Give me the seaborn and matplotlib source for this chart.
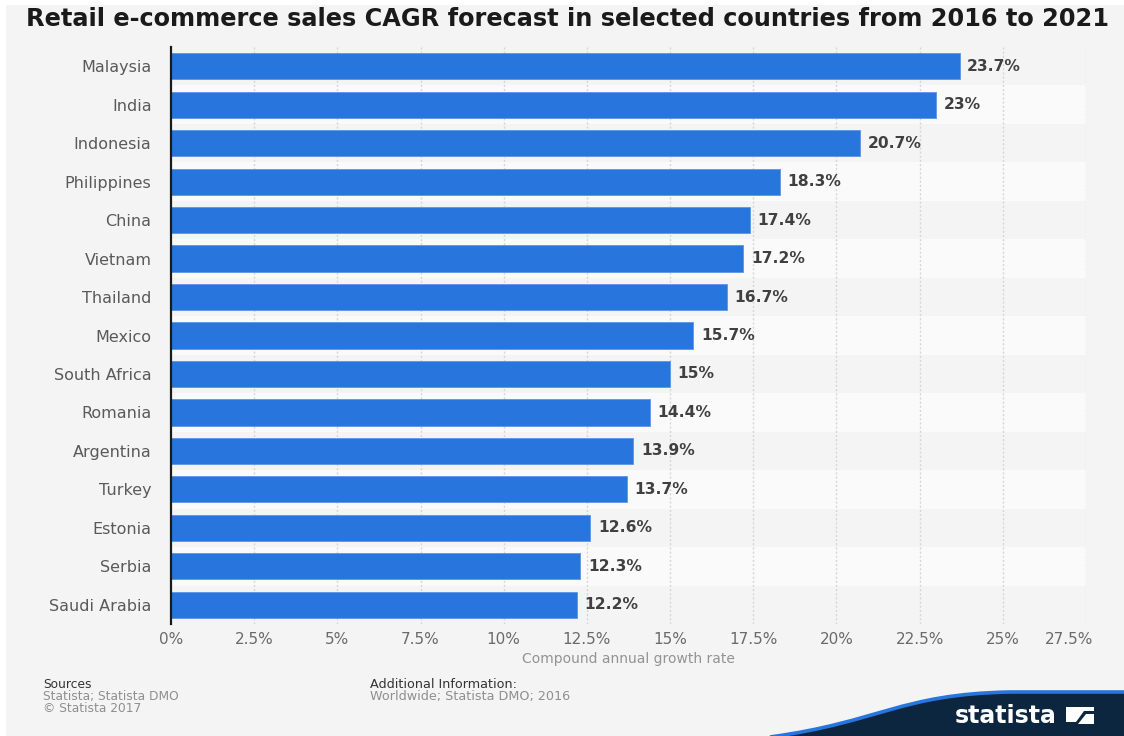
import numpy as np
import pandas as pd
import matplotlib
matplotlib.use("Agg")
import matplotlib.pyplot as plt
import seaborn as sns
from matplotlib.patches import Rectangle, PathPatch, Polygon
from matplotlib.path import Path
from matplotlib.transforms import Affine2D

# ---- data -------------------------------------------------------------
countries = ["Malaysia", "India", "Indonesia", "Philippines", "China",
             "Vietnam", "Thailand", "Mexico", "South Africa", "Romania",
             "Argentina", "Turkey", "Estonia", "Serbia", "Saudi Arabia"]
cagr = [23.7, 23, 20.7, 18.3, 17.4, 17.2, 16.7, 15.7, 15, 14.4,
        13.9, 13.7, 12.6, 12.3, 12.2]
x_ticks = [0, 2.5, 5, 7.5, 10, 12.5, 15, 17.5, 20, 22.5, 25, 27.5]

title = "Retail e-commerce sales CAGR forecast in selected countries from 2016 to 2021"
x_label = "Compound annual growth rate"

# ---- style ------------------------------------------------------------
BG = "#f4f4f4"
BAND = "#fafafa"
BAR = "#2876dd"
NAVY = "#0c2640"

sns.set_theme(style="white")
plt.rcParams["font.family"] = ["DejaVu Sans"]

W, H = 1124, 736
fig = plt.figure(figsize=(W / 100, H / 100), dpi=100, facecolor="white")

# pixel helper: x from left, y from top
px = Affine2D().scale(1 / W, -1 / H).translate(0, 1) + fig.transFigure

fig.patches.append(Rectangle((6, 5), W - 6, H - 5, transform=px,
                             facecolor=BG, edgecolor="none", zorder=-10))

ax = fig.add_axes([171 / W, 1 - 624 / H, (1086 - 171) / W, (624 - 47) / H])
ax.set_facecolor("none")
ax.set_zorder(2)

df = pd.DataFrame({"country": countries, "cagr": cagr})

# alternating row bands
for i in range(len(countries)):
    if i % 2 == 1:
        ax.axhspan(i - 0.5, i + 0.5, color=BAND, zorder=0, lw=0)

sns.barplot(data=df, x="cagr", y="country", orient="h", color=BAR,
            saturation=1, width=0.68, ax=ax, zorder=3,
            edgecolor="#5b96e6", linewidth=0.6)

ax.set_xlim(0, 27.5)
ax.set_ylim(len(countries) - 0.5, -0.5)
ax.set_xticks(x_ticks)
ax.set_xticklabels([f"{t:g}%" for t in x_ticks])
for t in x_ticks[1:]:
    ax.axvline(t, color="#d6d6d6", lw=1, ls=(0, (1.5, 1.5)), zorder=1)

for s in ["top", "right", "bottom"]:
    ax.spines[s].set_visible(False)
ax.spines["left"].set_color("#1a1a1a")
ax.spines["left"].set_linewidth(1.6)
ax.spines["left"].set_zorder(5)

ax.tick_params(axis="y", length=0, pad=14, labelsize=11.5, labelcolor="#5a5a5a")
ax.tick_params(axis="x", length=0, pad=6, labelsize=11, labelcolor="#6a6a6a")
ax.set_ylabel("")
ax.set_xlabel(x_label, fontsize=10, color="#939393", labelpad=3)

# last x tick label shifted left so it stays inside
last = ax.get_xticklabels()[-1]
last.set_horizontalalignment("right")
last.set_transform(last.get_transform() + Affine2D().translate(7, 0))

# value labels
ax.bar_label(ax.containers[0], labels=[f"{v:g}%" for v in cagr], padding=5.5,
             fontsize=11.2, fontweight="bold", color="#404040")

# title
fig.text(567 / W, 1 - 19 / H, title, ha="center", va="center",
         fontsize=17.3, fontweight="bold", color="#1a1a1a")

# footer
fig.text(43 / W, 1 - 685 / H, "Sources", fontsize=8.8, color="#333333", va="center")
fig.text(43 / W, 1 - 696.5 / H, "Statista; Statista DMO", fontsize=8.8, color="#8f8f8f", va="center")
fig.text(43 / W, 1 - 708 / H, "\u00a9 Statista 2017", fontsize=8.8, color="#8f8f8f", va="center")
fig.text(370 / W, 1 - 685 / H, "Additional Information:", fontsize=9.2, color="#333333", va="center")
fig.text(370 / W, 1 - 696.5 / H, "Worldwide; Statista DMO; 2016", fontsize=9.2, color="#8f8f8f", va="center")

# brand wave
wave_top = [(770, 737), (880, 722), (900, 694), (1010, 692)]
verts = wave_top + [(W, 692), (W, H), (770, H), (770, 737)]
codes = [Path.MOVETO, Path.CURVE4, Path.CURVE4, Path.CURVE4,
         Path.LINETO, Path.LINETO, Path.LINETO, Path.CLOSEPOLY]
fig.patches.append(PathPatch(Path(verts, codes), transform=px,
                             facecolor=NAVY, edgecolor="none", zorder=1))
edge = Path(wave_top + [(W, 692)],
            [Path.MOVETO, Path.CURVE4, Path.CURVE4, Path.CURVE4, Path.LINETO])
fig.patches.append(PathPatch(edge, transform=px, facecolor="none",
                             edgecolor=BAR, lw=2.6, zorder=2))

fig.text(1006 / W, 1 - 716 / H, "statista", ha="center", va="center",
         fontsize=17, fontweight="bold", color="white")
fig.patches.append(Rectangle((1066, 707), 28, 17, transform=px,
                             facecolor="white", edgecolor="none", zorder=3))
fig.patches.append(Polygon([(1066, 722), (1076, 722), (1084, 711), (1094, 711),
                            (1094, 714), (1086, 714), (1078, 724), (1066, 724)],
                           closed=True, transform=px, facecolor=NAVY,
                           edgecolor="none", zorder=4))

fig.savefig("out.png", dpi=100, facecolor=fig.get_facecolor())
